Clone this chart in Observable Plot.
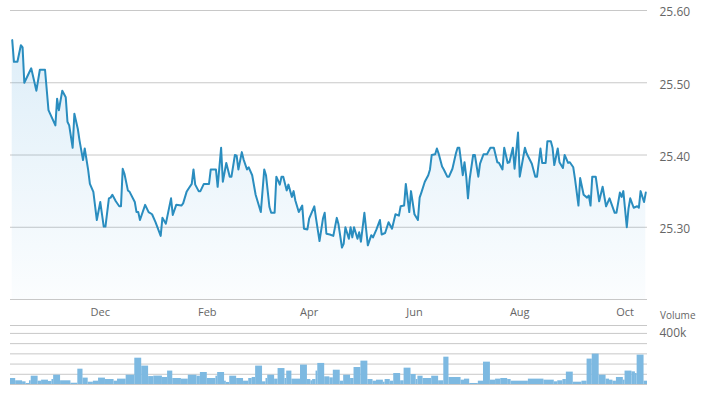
<!DOCTYPE html>
<html><head><meta charset="utf-8">
<script src="https://cdn.jsdelivr.net/npm/d3@7"></script>
<script src="https://cdn.jsdelivr.net/npm/@observablehq/plot@0.6"></script>
<style>
body{margin:0;background:#fff;}
#chart{position:relative;width:702px;height:399px;overflow:hidden;}
#chart svg{position:absolute;left:0;}
</style></head><body><div id="chart"></div>
<script>
const priceDates = [
"2018-10-11","2018-10-12","2018-10-14","2018-10-16","2018-10-17","2018-10-18","2018-10-20","2018-10-22","2018-10-25","2018-10-27",
"2018-10-30","2018-11-01","2018-11-05","2018-11-06","2018-11-07","2018-11-09","2018-11-11","2018-11-12","2018-11-13","2018-11-15",
"2018-11-16","2018-11-18","2018-11-19","2018-11-21","2018-11-22","2018-11-24","2018-11-25","2018-11-27","2018-11-29","2018-12-01",
"2018-12-03","2018-12-04","2018-12-06","2018-12-07","2018-12-08","2018-12-10","2018-12-12","2018-12-13","2018-12-14","2018-12-15",
"2018-12-17","2018-12-18","2018-12-21","2018-12-22","2018-12-23","2018-12-24","2018-12-27","2018-12-29","2018-12-31","2019-01-02",
"2019-01-05","2019-01-06","2019-01-08","2019-01-11","2019-01-12","2019-01-14","2019-01-17","2019-01-18","2019-01-20","2019-01-21",
"2019-01-23","2019-01-24","2019-01-25","2019-01-27","2019-01-28","2019-01-30","2019-02-02","2019-02-03","2019-02-06","2019-02-07",
"2019-02-09","2019-02-10","2019-02-12","2019-02-14","2019-02-15","2019-02-17","2019-02-18","2019-02-19","2019-02-21","2019-02-22",
"2019-02-24","2019-02-25","2019-02-27","2019-03-01","2019-03-04","2019-03-06","2019-03-07","2019-03-09","2019-03-10","2019-03-12",
"2019-03-13","2019-03-15","2019-03-16","2019-03-17","2019-03-19","2019-03-20","2019-03-22","2019-03-23","2019-03-24","2019-03-26",
"2019-03-28","2019-03-29","2019-03-31","2019-04-01","2019-04-04","2019-04-05","2019-04-07","2019-04-09","2019-04-10","2019-04-11",
"2019-04-13","2019-04-15","2019-04-17","2019-04-18","2019-04-20","2019-04-21","2019-04-22","2019-04-24","2019-04-25","2019-04-26",
"2019-04-27","2019-04-29","2019-04-30","2019-05-01","2019-05-03","2019-05-05","2019-05-07","2019-05-08","2019-05-10","2019-05-12",
"2019-05-13","2019-05-15","2019-05-17","2019-05-19","2019-05-21","2019-05-23","2019-05-24","2019-05-26","2019-05-27","2019-05-29",
"2019-05-30","2019-06-01","2019-06-03","2019-06-04","2019-06-05","2019-06-07","2019-06-09","2019-06-10","2019-06-11","2019-06-13",
"2019-06-14","2019-06-15","2019-06-17","2019-06-18","2019-06-20","2019-06-21","2019-06-23","2019-06-25","2019-06-26","2019-06-27",
"2019-06-29","2019-06-30","2019-07-01","2019-07-02","2019-07-03","2019-07-05","2019-07-06","2019-07-08","2019-07-09","2019-07-11",
"2019-07-13","2019-07-15","2019-07-17","2019-07-19","2019-07-20","2019-07-22","2019-07-23","2019-07-25","2019-07-26","2019-07-28",
"2019-07-29","2019-07-31","2019-08-01","2019-08-04","2019-08-05","2019-08-08","2019-08-10","2019-08-11","2019-08-13","2019-08-14",
"2019-08-16","2019-08-17","2019-08-19","2019-08-20","2019-08-21","2019-08-23","2019-08-24","2019-08-26","2019-08-27","2019-08-29",
"2019-08-30","2019-09-01","2019-09-02","2019-09-04","2019-09-05","2019-09-07","2019-09-09","2019-09-10","2019-09-11","2019-09-12",
"2019-09-14","2019-09-16","2019-09-18","2019-09-20","2019-09-22","2019-09-25","2019-09-26","2019-09-28","2019-09-29","2019-09-30",
"2019-10-02","2019-10-03","2019-10-04","2019-10-06","2019-10-08","2019-10-09","2019-10-10","2019-10-12","2019-10-13"
];
const priceValues = [
25.559,25.529,25.529,25.552,25.549,25.500,25.510,25.520,25.489,25.518,
25.518,25.462,25.441,25.478,25.462,25.489,25.480,25.446,25.441,25.410,
25.457,25.436,25.420,25.393,25.409,25.379,25.360,25.349,25.310,25.335,
25.301,25.301,25.340,25.341,25.345,25.336,25.329,25.329,25.381,25.374,
25.351,25.349,25.335,25.321,25.321,25.310,25.331,25.321,25.318,25.307,
25.288,25.313,25.305,25.340,25.317,25.331,25.330,25.333,25.349,25.353,
25.360,25.380,25.359,25.350,25.350,25.360,25.360,25.380,25.380,25.356,
25.410,25.363,25.389,25.370,25.370,25.400,25.399,25.380,25.404,25.394,
25.380,25.383,25.372,25.345,25.321,25.380,25.372,25.328,25.320,25.320,
25.370,25.359,25.370,25.370,25.351,25.359,25.342,25.350,25.337,25.321,
25.330,25.298,25.297,25.312,25.329,25.312,25.281,25.312,25.320,25.291,
25.290,25.288,25.313,25.304,25.272,25.277,25.300,25.284,25.300,25.286,
25.300,25.284,25.293,25.280,25.320,25.275,25.289,25.286,25.297,25.310,
25.290,25.292,25.307,25.298,25.318,25.316,25.329,25.330,25.360,25.321,
25.350,25.318,25.310,25.341,25.348,25.363,25.372,25.380,25.400,25.401,
25.409,25.402,25.384,25.380,25.370,25.370,25.381,25.402,25.410,25.410,
25.372,25.390,25.370,25.340,25.367,25.400,25.400,25.370,25.388,25.401,
25.401,25.410,25.410,25.390,25.389,25.380,25.410,25.389,25.390,25.410,
25.381,25.431,25.370,25.410,25.402,25.388,25.370,25.370,25.409,25.389,
25.389,25.419,25.419,25.410,25.386,25.409,25.390,25.382,25.400,25.389,
25.390,25.383,25.367,25.330,25.368,25.345,25.341,25.344,25.330,25.370,
25.370,25.336,25.356,25.329,25.340,25.320,25.320,25.348,25.342,25.350,
25.300,25.326,25.340,25.327,25.329,25.327,25.350,25.335,25.348
];
const volStart = [
"2018-10-10","2018-10-13","2018-10-17","2018-10-19","2018-10-21","2018-10-22","2018-10-26","2018-10-28","2018-11-01","2018-11-03",
"2018-11-04","2018-11-08","2018-11-14","2018-11-18","2018-11-21","2018-11-24","2018-11-27","2018-11-30","2018-12-04","2018-12-09",
"2018-12-11","2018-12-16","2018-12-21","2018-12-25","2018-12-29","2019-01-01","2019-01-06","2019-01-09","2019-01-12","2019-01-17",
"2019-01-21","2019-01-26","2019-01-28","2019-02-01","2019-02-06","2019-02-07","2019-02-11","2019-02-12","2019-02-14","2019-02-18",
"2019-02-22","2019-02-25","2019-02-27","2019-03-01","2019-03-05","2019-03-07","2019-03-08","2019-03-12","2019-03-14","2019-03-18",
"2019-03-19","2019-03-22","2019-03-27","2019-03-31","2019-04-02","2019-04-03","2019-04-05","2019-04-06","2019-04-10","2019-04-13",
"2019-04-15","2019-04-19","2019-04-21","2019-04-25","2019-04-27","2019-05-01","2019-05-05","2019-05-08","2019-05-10","2019-05-14",
"2019-05-15","2019-05-18","2019-05-20","2019-05-24","2019-05-26","2019-05-30","2019-06-02","2019-06-03","2019-06-06","2019-06-11",
"2019-06-15","2019-06-18","2019-06-21","2019-06-28","2019-06-30","2019-07-03","2019-07-08","2019-07-11","2019-07-15","2019-07-18",
"2019-07-21","2019-07-25","2019-07-27","2019-08-06","2019-08-15","2019-08-21","2019-08-23","2019-08-26","2019-08-28","2019-09-01",
"2019-09-06","2019-09-09","2019-09-12","2019-09-16","2019-09-20","2019-09-22","2019-09-24","2019-09-26","2019-09-30","2019-10-01",
"2019-10-05","2019-10-07","2019-10-08","2019-10-12"
];
const volValue = [
47000,29000,21000,8000,29000,65000,26000,34000,24000,39000,
73000,29000,10000,120000,50000,18000,26000,50000,39000,26000,
42000,73000,206000,144000,62000,66000,55000,105000,47000,42000,
73000,65000,94000,47000,65000,94000,26000,16000,65000,47000,
26000,47000,55000,144000,21000,47000,73000,42000,125000,47000,
105000,42000,152000,39000,29000,39000,105000,165000,60000,52000,
112000,26000,73000,47000,133000,183000,39000,26000,34000,18000,
39000,26000,86000,29000,128000,78000,39000,65000,47000,65000,
29000,214000,55000,34000,42000,8000,26000,175000,34000,42000,
47000,39000,26000,42000,34000,21000,29000,39000,97000,18000,
26000,199000,238000,73000,42000,34000,26000,55000,34000,105000,
99000,86000,230000,26000
];
const volEnd = "2019-10-14";
const monthTicks = ["2018-12-01","2019-02-01","2019-04-01","2019-06-01","2019-08-01","2019-10-01"];
const priceTicks = [25.3, 25.4, 25.5, 25.6];
const priceDomain = [25.2, 25.6];
const volTicks = [0, 80000, 160000, 240000, 320000, 400000];
const volLabelTicks = [400000];
const volMax = 462000;

const gridColor = "#c8c8c8";
const textColor = "#666666";
const font = "'Open Sans', sans-serif";
const xDomain = [new Date(volStart[0]), new Date(volEnd)];

const price = priceDates.map((d, i) => ({date: new Date(d), value: priceValues[i]}));
const vol = volStart.map((d, i) => ({
  start: new Date(d),
  end: new Date(i + 1 < volStart.length ? volStart[i + 1] : volEnd),
  value: volValue[i]
}));

const p1 = Plot.plot({
  width: 702, height: 324,
  marginTop: 10, marginBottom: 25, marginLeft: 10, marginRight: 55,
  style: {fontFamily: font, fontSize: "12px", color: textColor, background: "transparent"},
  x: {type: "utc", domain: xDomain, label: null},
  y: {domain: priceDomain, label: null},
  marks: [
    Plot.gridY(priceTicks, {stroke: gridColor, strokeOpacity: 1}),
    Plot.ruleY([priceDomain[0]], {stroke: gridColor}),
    Plot.areaY(price, {x: "date", y1: priceDomain[0], y2: "value", fill: "url(#pfill)"}),
    Plot.lineY(price, {x: "date", y: "value", stroke: "#2a8dbf", strokeWidth: 2, strokeLinejoin: "round"}),
    Plot.axisY(priceTicks, {anchor: "right", tickSize: 0, tickPadding: 12, tickFormat: d3.format(".2f"), dy: 2, label: null, fill: textColor, fontSize: 12}),
    Plot.axisX(monthTicks.map(s => new Date(s)), {anchor: "bottom", tickSize: 0, tickPadding: 9, tickFormat: d3.utcFormat("%b"), label: null, fill: textColor, fontSize: 11})
  ]
});
const ns = "http://www.w3.org/2000/svg";
const defs = document.createElementNS(ns, "defs");
const lg = document.createElementNS(ns, "linearGradient");
lg.setAttribute("id", "pfill");
lg.setAttribute("x1", "0"); lg.setAttribute("y1", "0");
lg.setAttribute("x2", "0"); lg.setAttribute("y2", "1");
[["0", 0.17], ["1", 0.02]].forEach(([o, a]) => {
  const s = document.createElementNS(ns, "stop");
  s.setAttribute("offset", o);
  s.setAttribute("stop-color", "#3b9ad8");
  s.setAttribute("stop-opacity", a);
  lg.appendChild(s);
});
defs.appendChild(lg);
p1.insertBefore(defs, p1.firstChild);
p1.style.top = "0px";

const p2 = Plot.plot({
  width: 702, height: 91,
  marginTop: 17, marginBottom: 15, marginLeft: 10, marginRight: 55,
  style: {fontFamily: font, fontSize: "12px", color: textColor, background: "transparent"},
  x: {type: "utc", domain: xDomain, axis: null, label: null},
  y: {domain: [0, volMax], label: null},
  marks: [
    Plot.gridY(volTicks, {stroke: gridColor, strokeOpacity: 1}),
    Plot.ruleY([volMax], {stroke: gridColor}),
    Plot.rectY(vol, {x1: "start", x2: "end", y: "value", fill: "#7db9e1"}),
    Plot.ruleY([0], {stroke: gridColor}),
    Plot.axisY(volLabelTicks, {anchor: "right", tickSize: 0, tickPadding: 12, tickFormat: d => d / 1000 + "k", dy: -0.5, label: null, fill: textColor, fontSize: 12}),
    Plot.axisY([], {anchor: "right", tickSize: 0, label: "Volume", labelAnchor: "top", labelOffset: 48, labelArrow: false, fill: textColor, fontSize: 10})
  ]
});
p2.style.top = "308px";

const chart = document.getElementById("chart");
chart.appendChild(p1);
chart.appendChild(p2);
</script>
</body></html>
